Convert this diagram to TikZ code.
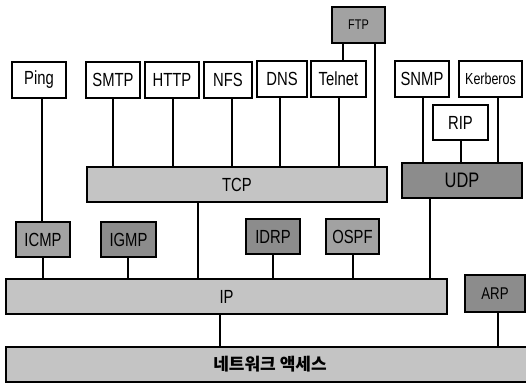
\documentclass[tikz,border=0pt]{standalone}
\usepackage{fontspec}
\setmainfont{Liberation Sans}[FakeStretch=0.78]
\newfontfamily\kofont{Noto Sans CJK KR}
\definecolor{barfill}{HTML}{C4C4C4}
\definecolor{midfill}{HTML}{A2A2A2}
\definecolor{darkfill}{HTML}{8C8C8C}
\begin{document}
\begin{tikzpicture}[x=1pt,y=-1pt,
  box/.style={draw=black,line width=1.6pt,rectangle,inner sep=0pt,minimum height=36pt,fill=white,font=\fontsize{19}{19}\selectfont},
  midbox/.style={box,fill=midfill},
  darkbox/.style={box,fill=darkfill},
  bar/.style={box,fill=barfill,minimum height=35pt},
  link/.style={line width=1.6pt}]
\clip (0,0) rectangle (526,388);
\fill[white] (0,0) rectangle (526,388);
% application layer
\node[box,minimum width=54pt] (Ping) at (39,80) {Ping};
\node[box,minimum width=54pt] (SMTP) at (113,80) {SMTP};
\node[box,minimum width=54pt] (HTTP) at (172,80) {HTTP};
\node[box,minimum width=48pt] (NFS) at (228,80) {NFS};
\node[box,minimum width=50pt] (DNS) at (282,79) {DNS};
\node[box,minimum width=55pt] (Telnet) at (338.5,79) {Telnet};
\node[midbox,minimum width=53pt,font=\fontsize{14}{14}\selectfont] (FTP) at (358.5,25) {FTP};
\node[box,minimum width=54pt] (SNMP) at (422,79) {SNMP};
\node[box,minimum width=63pt,font=\fontsize{16}{16}\selectfont] (Kerberos) at (490.5,79) {Kerberos};
\node[box,minimum width=55pt,minimum height=35pt] (RIP) at (460.5,122.5) {RIP};
% transport
\node[bar,minimum width=300pt] (TCP) at (237,184.5) {TCP};
\node[darkbox,minimum width=120pt,minimum height=35pt,font=\fontsize{21}{21}\selectfont] (UDP) at (462,180.5) {UDP};
% internet
\node[midbox,minimum width=54pt,minimum height=35pt] (ICMP) at (43,239.5) {ICMP};
\node[darkbox,minimum width=55pt,minimum height=35pt] (IGMP) at (128.5,239.5) {IGMP};
\node[darkbox,minimum width=54pt,minimum height=35pt] (IDRP) at (273,236.5) {IDRP};
\node[midbox,minimum width=53pt,minimum height=35pt] (OSPF) at (352.5,236.5) {OSPF};
\node[bar,minimum width=441pt] (IP) at (226.5,296.5) {IP};
\node[darkbox,minimum width=60pt,minimum height=37pt,font=\fontsize{17}{17}\selectfont] (ARP) at (495,293.5) {ARP};
% network access
\node[bar,minimum width=528pt,font=\fontsize{17}{17}\kofont\bfseries] (NET) at (270,364.5) {네트워크 액세스};
% connectors
\draw[link] (Ping.south -| 42,0) -- (ICMP.north -| 42,0);
\draw[link] (SMTP.south -| 113,0) -- (TCP.north -| 113,0);
\draw[link] (HTTP.south -| 173,0) -- (TCP.north -| 173,0);
\draw[link] (NFS.south -| 232,0) -- (TCP.north -| 232,0);
\draw[link] (DNS.south -| 280,0) -- (TCP.north -| 280,0);
\draw[link] (Telnet.south -| 339,0) -- (TCP.north -| 339,0);
\draw[link] (FTP.south -| 343,0) -- (Telnet.north -| 343,0);
\draw[link] (FTP.south -| 375,0) -- (TCP.north -| 375,0);
\draw[link] (SNMP.south -| 423,0) -- (UDP.north -| 423,0);
\draw[link] (RIP.south -| 461,0) -- (UDP.north -| 461,0);
\draw[link] (Kerberos.south -| 498,0) -- (UDP.north -| 498,0);
\draw[link] (ICMP.south -| 43,0) -- (IP.north -| 43,0);
\draw[link] (IGMP.south -| 128,0) -- (IP.north -| 128,0);
\draw[link] (TCP.south -| 198,0) -- (IP.north -| 198,0);
\draw[link] (IDRP.south -| 273,0) -- (IP.north -| 273,0);
\draw[link] (OSPF.south -| 353,0) -- (IP.north -| 353,0);
\draw[link] (UDP.south -| 430,0) -- (IP.north -| 430,0);
\draw[link] (IP.south -| 220,0) -- (NET.north -| 220,0);
\draw[link] (ARP.south -| 498,0) -- (NET.north -| 498,0);
\end{tikzpicture}
\end{document}
